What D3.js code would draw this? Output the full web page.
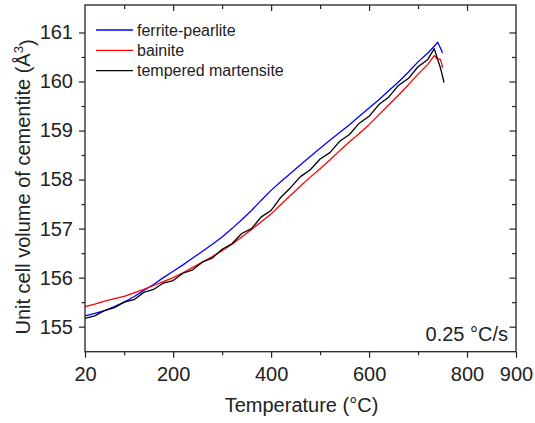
<!DOCTYPE html>
<html>
<head>
<meta charset="utf-8">
<script src="https://cdn.jsdelivr.net/npm/d3@7"></script>
<style>
  body { margin: 0; background: #fff; }
  svg { display: block; font-family: "Liberation Sans", Arial, sans-serif; }
</style>
</head>
<body>
<svg id="chart" width="535" height="423"></svg>
<script>
// Temperatures (°C) shared by the three series
const temps = [20, 40, 60, 80, 100, 120, 140, 160, 180, 200, 220, 240, 260, 280, 300, 320, 340, 360,
  380, 400, 420, 440, 460, 480, 500, 520, 540, 560, 580, 600, 620, 640, 660, 680, 700, 720];

// Unit cell volume (Å³) for each microstructure
const ferritePearlite = [155.22, 155.27, 155.33, 155.41, 155.50, 155.61, 155.74, 155.86, 156.00, 156.13,
  156.26, 156.40, 156.54, 156.68, 156.83, 157.00, 157.18, 157.37, 157.58, 157.78, 157.96, 158.13,
  158.30, 158.47, 158.64, 158.80, 158.96, 159.12, 159.29, 159.46, 159.63, 159.81, 159.99, 160.19,
  160.40, 160.58];
const bainite = [155.41, 155.46, 155.52, 155.57, 155.62, 155.69, 155.76, 155.84, 155.92, 156.00,
  156.10, 156.21, 156.32, 156.43, 156.55, 156.68, 156.83, 156.98, 157.14, 157.30, 157.49, 157.68,
  157.87, 158.05, 158.22, 158.40, 158.59, 158.77, 158.94, 159.12, 159.32, 159.52, 159.72, 159.93,
  160.15, 160.35];
const temperedMartensite = [155.17, 155.22, 155.33, 155.39, 155.50, 155.55, 155.70, 155.76, 155.89, 155.94,
  156.09, 156.16, 156.32, 156.40, 156.58, 156.69, 156.90, 157.00, 157.24, 157.37, 157.64, 157.84,
  158.06, 158.20, 158.42, 158.55, 158.78, 158.92, 159.15, 159.29, 159.53, 159.68, 159.92, 160.06,
  160.30, 160.45];

// End of each run (peak then drop)
const tailTempsFP = [735, 740, 744, 748, 750];
const tailFP = [160.74, 160.80, 160.72, 160.63, 160.58];
const tailTempsB = [733, 740, 745, 748, 750];
const tailB = [160.53, 160.45, 160.46, 160.38, 160.28];
const tailTempsTM = [733, 737, 741, 745, 749, 753];
const tailTM = [160.67, 160.55, 160.42, 160.30, 160.15, 159.98];

// Ticks
const xMajor = [20, 200, 400, 600, 800, 900];
const xMinor = [100, 300, 500, 700];
const xTopMajor = [200, 400, 600, 800];
const yMajor = [155, 156, 157, 158, 159, 160, 161];
const yMinor = [155.5, 156.5, 157.5, 158.5, 159.5, 160.5];

const seriesNames = ["ferrite-pearlite", "bainite", "tempered martensite"];
const colors = ["#0000ff", "#ff0000", "#000000"];

const svg = d3.select("#chart");
const x0 = 85, x1 = 516, y0 = 351.7, y1 = 5;

const x = d3.scaleLinear().domain([20, 900]).range([x0, x1]);
const y = d3.scaleLinear().domain([154.49, 161.56]).range([y0, y1]);

const build = (main, tt, tv) =>
  temps.map((t, i) => ({ t, v: main[i] })).concat(tt.map((t, i) => ({ t, v: tv[i] })));

const series = [
  build(ferritePearlite, tailTempsFP, tailFP),
  build(bainite, tailTempsB, tailB),
  build(temperedMartensite, tailTempsTM, tailTM),
];

const line = d3.line().x((d) => x(d.t)).y((d) => y(d.v));

// Curves (drawn blue, red, black so black ends on top)
svg.selectAll("path.curve")
  .data(series)
  .enter()
  .append("path")
  .attr("class", "curve")
  .attr("fill", "none")
  .attr("stroke", (d, i) => colors[i])
  .attr("stroke-width", 1.3)
  .attr("stroke-linejoin", "round")
  .attr("d", line);

// Axes helper
const styleAxis = (g) => {
  g.select(".domain").remove();
  g.selectAll("line").attr("stroke", "#222").attr("stroke-width", 1.2);
  g.selectAll("text").attr("fill", "#222").style("font-size", "20px")
    .style("font-family", '"Liberation Sans", Arial, sans-serif');
};

// Bottom axis
svg.append("g").attr("transform", `translate(0,${y0})`)
  .call(d3.axisBottom(x).tickValues(xMajor).tickSize(6).tickPadding(9).tickFormat(d3.format("d")))
  .call(styleAxis);
svg.append("g").attr("transform", `translate(0,${y0})`)
  .call(d3.axisBottom(x).tickValues(xMinor).tickSize(3.5).tickFormat(""))
  .call(styleAxis);

// Top axis (inward ticks)
svg.append("g").attr("transform", `translate(0,${y1})`)
  .call(d3.axisTop(x).tickValues(xTopMajor).tickSize(-6).tickFormat(""))
  .call(styleAxis);
svg.append("g").attr("transform", `translate(0,${y1})`)
  .call(d3.axisTop(x).tickValues(xMinor).tickSize(-4).tickFormat(""))
  .call(styleAxis);

// Left axis
svg.append("g").attr("transform", `translate(${x0},0)`)
  .call(d3.axisLeft(y).tickValues(yMajor).tickSize(6).tickPadding(6).tickFormat(d3.format("d")))
  .call(styleAxis);
svg.append("g").attr("transform", `translate(${x0},0)`)
  .call(d3.axisLeft(y).tickValues(yMinor).tickSize(3.5).tickFormat(""))
  .call(styleAxis);

// Right axis (inward ticks)
svg.append("g").attr("transform", `translate(${x1},0)`)
  .call(d3.axisRight(y).tickValues(yMajor).tickSize(-6.5).tickFormat(""))
  .call(styleAxis);
svg.append("g").attr("transform", `translate(${x1},0)`)
  .call(d3.axisRight(y).tickValues(yMinor).tickSize(-4).tickFormat(""))
  .call(styleAxis);

// Frame
svg.append("rect")
  .attr("x", x0).attr("y", y1)
  .attr("width", x1 - x0).attr("height", y0 - y1)
  .attr("fill", "none").attr("stroke", "#222").attr("stroke-width", 1.3);

// Legend
const legend = svg.append("g").attr("transform", "translate(96,30)");
seriesNames.forEach((name, i) => {
  const row = legend.append("g").attr("transform", `translate(0,${i * 20.3})`);
  row.append("line").attr("x1", 0).attr("x2", 37).attr("y1", 0).attr("y2", 0)
    .attr("stroke", colors[i]).attr("stroke-width", 1.3);
  row.append("text").attr("x", 41).attr("dy", "0.35em")
    .attr("fill", "#222").style("font-size", "16px").text(name);
});

// Heating rate
svg.append("text")
  .attr("x", 508).attr("y", 341)
  .attr("text-anchor", "end")
  .attr("fill", "#222").style("font-size", "20px")
  .text("0.25 °C/s");

// X title
svg.append("text")
  .attr("x", (x0 + x1) / 2 + 1).attr("y", 412)
  .attr("text-anchor", "middle")
  .attr("fill", "#222").style("font-size", "20px")
  .text("Temperature (°C)");

// Y title
const yTitle = svg.append("text")
  .attr("transform", `translate(30,${187}) rotate(-90)`)
  .attr("text-anchor", "middle")
  .attr("fill", "#222").style("font-size", "20px");
yTitle.append("tspan").text("Unit cell volume of cementite (Å");
yTitle.append("tspan").attr("dy", "-0.55em").style("font-size", "13px").text("3");
yTitle.append("tspan").attr("dy", "0.55em").text(")");
</script>
</body>
</html>
